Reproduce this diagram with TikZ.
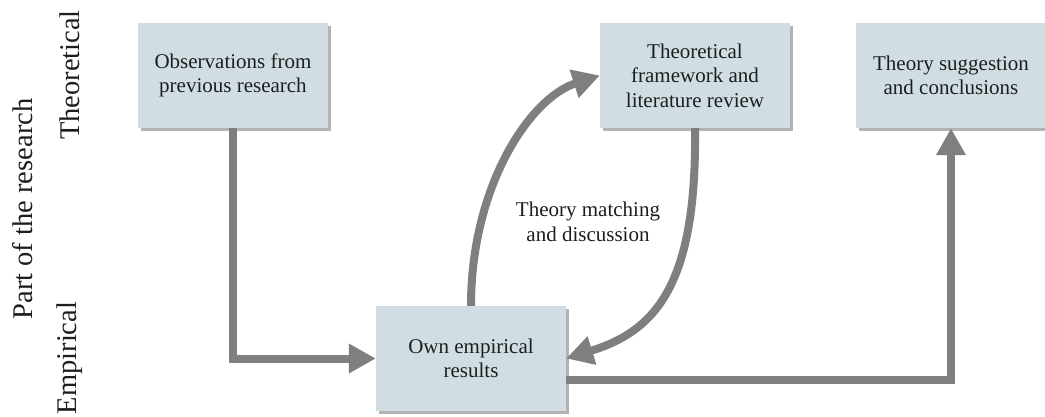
\documentclass[tikz,border=0pt]{standalone}
\usepackage{fontspec}
\setmainfont{Liberation Serif}
\newfontfamily\labelserif{Liberation Serif}
\usetikzlibrary{arrows.meta,shadows}
\definecolor{boxfill}{HTML}{D0DEE3}
\definecolor{flowgray}{HTML}{7F7F7F}
\definecolor{txt}{HTML}{1E1E1E}
\begin{document}
\begin{tikzpicture}[x=1pt,y=1pt,
  stagebox/.style={rectangle, fill=boxfill, minimum width=190pt, minimum height=105pt,
    inner sep=0pt, align=center, text=txt, font=\labelserif\fontsize{21}{24.5}\selectfont,
    drop shadow={shadow xshift=2.5pt, shadow yshift=-3pt, fill=black, opacity=0.3}},
  flow/.style={draw=flowgray, line width=8pt, -{Triangle[length=27pt,width=28pt]}},
  sidelabel/.style={rotate=90, text=txt, font=\labelserif\fontsize{28.5}{32}\selectfont},
  note/.style={align=center, text=txt, font=\labelserif\fontsize{21}{24.5}\selectfont}]
\useasboundingbox (0,0) rectangle (1045,416);

% stages of the research
\node[stagebox] (obs)  at (233,340.5) {Observations from\\previous research};
\node[stagebox] (frame) at (695,340.5) {Theoretical\\framework and\\literature review};
\node[stagebox] (sugg) at (951,340.5) {Theory suggestion\\and conclusions};
\node[stagebox] (own)  at (471,57.5) {Own empirical\\results};

% axis labels
\node[sidelabel] (part) at (23,207) {Part of the research};
\node[sidelabel] (theo) at (70,341) {Theoretical};
\node[sidelabel] (emp)  at (70,58) {Empirical};

% flows between stages
\draw[flow] (obs.south) |- (own.west);
\draw[flow] ([yshift=-21.5pt]own.east) -| (sugg.south);
\draw[flow] (own.north) .. controls (471,230) and (530,318) .. (frame.west);
\draw[flow] (frame.south) .. controls (697,130) and (655,85) .. (own.east);

\node[note] (match) at (588,194) {Theory matching\\and discussion};
\end{tikzpicture}
\end{document}
